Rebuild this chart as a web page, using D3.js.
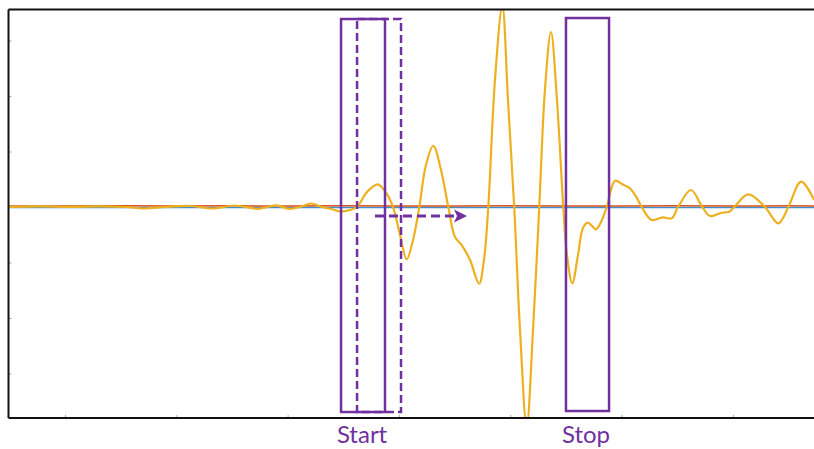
<!DOCTYPE html>
<html><head><meta charset="utf-8">
<script src="https://cdn.jsdelivr.net/npm/d3@7"></script>
<style>body{margin:0;background:#fff}svg{display:block}</style>
</head><body>
<script>
// ---- data (time units, amplitude units) ----
const sigT = [-0.508,-0.225,0.045,0.314,0.539,0.719,0.898,1.123,1.330,1.527,1.734,1.896,2.013,2.110,2.210,2.309,2.400,2.471,2.561,2.624,2.713,2.810,2.884,2.947,3.010,3.070,3.127,3.183,3.243,3.309,3.378,3.444,3.504,3.564,3.639,3.720,3.764,3.803,3.863,3.929,3.980,4.036,4.088,4.148,4.205,4.261,4.312,4.366,4.420,4.477,4.510,4.558,4.609,4.654,4.696,4.735,4.771,4.816,4.867,4.942,5.004,5.076,5.130,5.181,5.271,5.370,5.451,5.508,5.624,5.726,5.795,5.900,5.968,6.013,6.139,6.289,6.409,6.499,6.613,6.730];
const sigY = [0,0.01,0,0.01,0,-0.027,0,0.018,-0.027,0.027,-0.032,0.031,-0.032,0,0.063,0,-0.04,-0.081,-0.054,0,0.27,0.409,0.258,0,-0.505,-0.942,-0.595,0,0.757,1.104,0.667,0,-0.541,-0.685,-0.955,-1.382,-0.955,0,2.288,3.62,1.928,0,-2.216,-3.95,-2.216,0,2.108,3.153,1.928,0,-0.865,-1.375,-0.865,-0.378,-0.283,-0.342,-0.402,-0.27,0,0.474,0.414,0.337,0.19,0,-0.234,-0.186,-0.204,0,0.306,0,-0.162,-0.103,-0.085,0,0.229,0,-0.294,0,0.456,0.126];
const refT = [-0.51,0,0.5,1,1.5,2,2.5,3,3.5,4,4.5,5,5.5,6,6.5,6.75];
const refRed = [0.02,0.018,0.022,0.017,0.021,0.019,0.022,0.018,0.02,0.021,0.017,0.02,0.022,0.019,0.021,0.02];
const refBlue = [-0.01,-0.01,-0.01,-0.01,-0.01,-0.01,-0.01,-0.01,-0.01,-0.01,-0.01,-0.01,-0.01,-0.01,-0.01,-0.01];
const xTicks = [0,1,2,3,4,5,6];
const yTicks = [-3,-2,-1,0,1,2,3];
const startWin = [2.480, 2.875];
const shiftedWin = [2.624, 3.019];
const stopWin = [4.501, 4.888];
const winY = [-3.694, 3.387];
const stopY = [-3.676, 3.405];
const arrowT = [2.785, 3.612];
const arrowY = -0.162;
const labels = ["Start", "Stop"];
const labelT = [2.669, 4.681];

const W = 814, H = 449;
const m = {left: 8.5, top: 9.5, right: 816, bottom: 418};
const x = d3.scaleLinear().domain([-0.5077, 6.7474]).range([m.left, m.right]);
const y = d3.scaleLinear().domain([-3.8018, 3.5586]).range([m.bottom, m.top]);

const svg = d3.select("body").append("svg").attr("width", W).attr("height", H);
svg.append("defs").append("clipPath").attr("id","clip").append("rect")
  .attr("x", m.left).attr("y", m.top).attr("width", m.right-m.left).attr("height", m.bottom-m.top);

// ticks (inward)
const gx = svg.append("g").attr("transform", `translate(0,${m.bottom})`)
  .call(d3.axisBottom(x).tickValues(xTicks).tickSize(-3).tickFormat(""));
const gy = svg.append("g").attr("transform", `translate(${m.left},0)`)
  .call(d3.axisLeft(y).tickValues(yTicks).tickSize(-3).tickFormat(""));
[gx, gy].forEach(g => { g.select(".domain").remove(); g.selectAll("line").attr("stroke", "#aaa"); });

const plot = svg.append("g").attr("clip-path", "url(#clip)");
const lineRef = d3.line().x((d,i) => x(refT[i])).y(d => y(d));
plot.append("path").attr("d", lineRef(refBlue)).attr("fill","none").attr("stroke","#3d8fd0").attr("stroke-width",1.5);
plot.append("path").attr("d", lineRef(refRed)).attr("fill","none").attr("stroke","#D95319").attr("stroke-width",1.5);
const lineSig = d3.line().x((d,i) => x(sigT[i])).y(d => y(d)).curve(d3.curveCatmullRom.alpha(0.5));
plot.append("path").attr("d", lineSig(sigY)).attr("fill","none").attr("stroke","#EDB120").attr("stroke-width",2.2);

// frame
const frame = svg.append("g").attr("fill","none").attr("stroke","#111").attr("stroke-width",2);
frame.append("line").attr("x1", m.left).attr("x2", m.right).attr("y1", m.top).attr("y2", m.top);
frame.append("line").attr("x1", m.left).attr("x2", m.right).attr("y1", m.bottom).attr("y2", m.bottom);
frame.append("line").attr("x1", m.left).attr("x2", m.left).attr("y1", m.top).attr("y2", m.bottom);

// annotations
const purple = "#7030A0";
function win(t, yy, dash) {
  const r = svg.append("rect")
    .attr("x", x(t[0])).attr("y", y(yy[1]))
    .attr("width", x(t[1]) - x(t[0])).attr("height", y(yy[0]) - y(yy[1]))
    .attr("fill","none").attr("stroke", purple).attr("stroke-width", 2.5);
  if (dash) r.attr("stroke-dasharray", "8,4");
}
win(startWin, winY, false);
win(shiftedWin, winY, true);
win(stopWin, stopY, false);

svg.append("line").attr("x1", x(arrowT[0])).attr("x2", x(arrowT[1]) - 8)
  .attr("y1", y(arrowY)).attr("y2", y(arrowY))
  .attr("stroke", purple).attr("stroke-width", 3).attr("stroke-dasharray", "9,5");
const tip = x(arrowT[1]), ay = y(arrowY);
svg.append("path").attr("d", `M${tip},${ay} L${tip-13},${ay-6.5} L${tip-10},${ay} L${tip-13},${ay+6.5} Z`)
  .attr("fill", purple);

svg.selectAll("text.lbl").data(labels).enter().append("text").attr("class","lbl")
  .attr("x", (d,i) => x(labelT[i])).attr("y", 443)
  .attr("text-anchor","middle").attr("font-family","Lato, 'Open Sans', sans-serif")
  .attr("font-size", 24).attr("fill", purple).text(d => d);
</script>
</body></html>
